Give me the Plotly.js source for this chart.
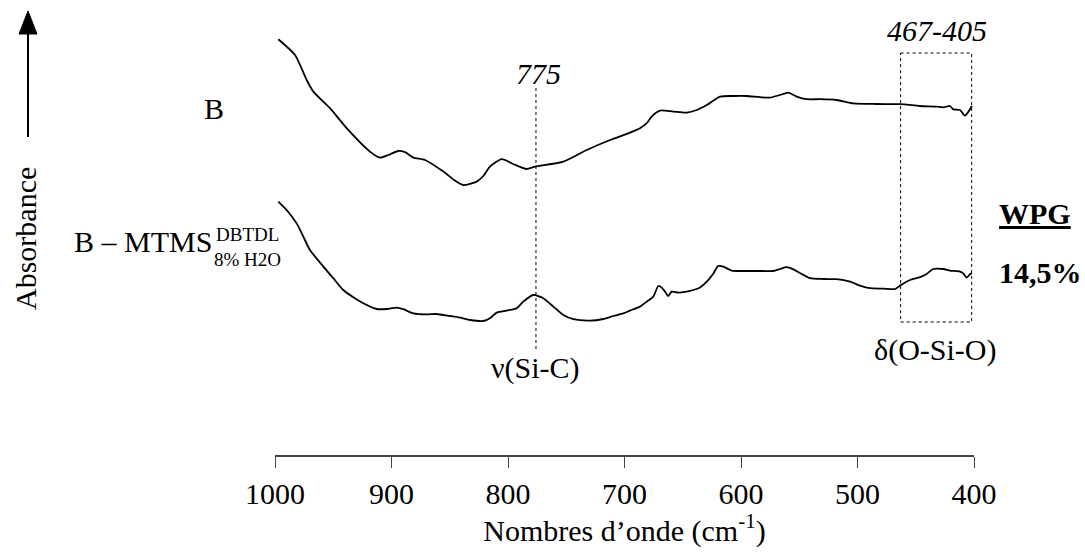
<!DOCTYPE html>
<html>
<head>
<meta charset="utf-8">
<script src="https://cdn.plot.ly/plotly-3.0.1.min.js"></script>
<style>html,body{margin:0;padding:0;background:#fff;}#chart{width:1085px;height:553px;}</style>
</head>
<body>
<div id="chart"></div>
<script>
// Wavenumbers (cm-1) and absorbance (arbitrary units) — spectrum B
const wnB = [997.2,982.8,972.8,967.1,952.8,938.5,918.5,909.9,902.8,894.2,888.4,881.3,871.2,855.5,845.5,838.4,826.9,821.2,815.5,805.4,795.5,784.0,776.8,752.5,732.4,712.4,695.3,686.7,680.9,676.7,669.5,658.1,646.6,638.0,629.4,618.0,606.6,595.1,583.7,575.1,566.5,559.4,552.2,543.6,532.2,517.9,503.6,483.5,463.5,446.4,432.0,426.4,420.6,417.8,412.0,407.7,401.8];
const absB = [2.079,2.000,1.875,1.817,1.734,1.634,1.517,1.487,1.500,1.520,1.514,1.487,1.475,1.417,1.372,1.350,1.367,1.395,1.442,1.479,1.455,1.430,1.442,1.467,1.525,1.575,1.612,1.634,1.659,1.692,1.722,1.717,1.712,1.725,1.750,1.792,1.795,1.795,1.789,1.787,1.800,1.812,1.792,1.779,1.779,1.775,1.758,1.755,1.754,1.745,1.742,1.738,1.745,1.728,1.725,1.697,1.745];

// Spectrum B – MTMS (DBTDL, 8% H2O)
const wnM = [997.2,990.0,981.4,975.7,970.0,958.5,950.0,941.4,932.8,924.2,912.7,904.1,895.5,889.9,881.3,869.8,861.2,849.8,841.2,832.6,821.2,815.5,809.7,801.1,792.5,786.9,778.3,769.7,761.1,752.5,743.9,729.6,718.2,709.6,701.0,695.3,686.7,680.9,675.3,671.0,668.1,665.2,662.4,659.5,653.8,646.6,640.9,635.2,629.4,623.7,619.7,615.2,608.0,598.0,589.4,580.8,572.3,566.5,560.8,555.1,547.9,540.8,529.4,517.9,506.4,497.9,489.3,477.8,467.8,462.7,454.9,446.4,440.7,435.0,426.4,420.6,412.0,409.2,406.3,403.4,402.0];
const absM = [1.267,1.225,1.158,1.092,1.025,0.942,0.884,0.825,0.789,0.759,0.730,0.730,0.737,0.729,0.708,0.703,0.705,0.695,0.687,0.675,0.670,0.684,0.712,0.722,0.734,0.767,0.800,0.784,0.742,0.700,0.679,0.672,0.680,0.695,0.708,0.722,0.742,0.767,0.792,0.845,0.837,0.817,0.795,0.817,0.812,0.817,0.825,0.838,0.867,0.908,0.945,0.942,0.922,0.920,0.920,0.920,0.920,0.930,0.939,0.928,0.905,0.884,0.880,0.879,0.867,0.847,0.834,0.832,0.830,0.850,0.875,0.889,0.905,0.930,0.930,0.922,0.917,0.908,0.887,0.904,0.910];

const tickVals = [1000, 900, 800, 700, 600, 500, 400];
const tickText = ["1000", "900", "800", "700", "600", "500", "400"];
const bandSiC = 776;          // dotted marker line (labelled 775)
const bandOSiO = [463, 402];   // dotted box (labelled 467-405)

// --- layout helpers (pixel -> paper) ---
const L = 275, W = 699, H = 455;
const px = x => (x - L) / W;
const py = y => (H - y) / H;
const FONT = "Liberation Serif, Times New Roman, serif";

function label(text, x, y, opts) {
  return Object.assign({
    xref: "paper", yref: "paper", x: px(x), y: py(y),
    xanchor: "center", yanchor: "middle", showarrow: false, text: text,
    font: {family: FONT, size: 30, color: "#000"}
  }, opts || {});
}

const lineStyle = {color: "#000", width: 1.8, shape: "spline", smoothing: 0.6};
const traces = [
  {x: wnB, y: absB, type: "scatter", mode: "lines", line: lineStyle, hoverinfo: "skip", name: "B"},
  {x: wnM, y: absM, type: "scatter", mode: "lines", line: lineStyle, hoverinfo: "skip", name: "B – MTMS"}
];

const layout = {
  width: 1085, height: 553,
  margin: {l: L, r: 1085 - L - W, t: 0, b: 553 - H},
  paper_bgcolor: "#fff", plot_bgcolor: "#fff",
  showlegend: false,
  font: {family: FONT, color: "#000"},
  xaxis: {
    range: [1000, 400], tickvals: tickVals, ticktext: tickText,
    ticks: "outside", ticklen: 11, tickwidth: 1, tickcolor: "#444",
    showline: true, linecolor: "#444", linewidth: 1.5,
    showgrid: false, zeroline: false,
    tickfont: {family: FONT, size: 30, color: "#000"},
    title: {text: "Nombres d’onde (cm<sup>-1</sup>)", font: {family: FONT, size: 30, color: "#000"}, standoff: 8}
  },
  yaxis: {range: [0, 2.275], visible: false, showgrid: false, zeroline: false},
  shapes: [
    {type: "line", xref: "x", yref: "paper", x0: bandSiC, x1: bandSiC, y0: py(88), y1: py(352), line: {color: "#000", width: 1, dash: "dot"}},
    {type: "rect", xref: "x", yref: "paper", x0: bandOSiO[0], x1: bandOSiO[1], y0: py(53), y1: py(322), line: {color: "#000", width: 1, dash: "dot"}},
    {type: "line", xref: "paper", yref: "paper", x0: px(28), x1: px(28), y0: py(137), y1: py(30), line: {color: "#000", width: 2}},
    {type: "path", xref: "paper", yref: "paper",
     path: "M " + px(19) + "," + py(34) + " L " + px(28) + "," + py(11) + " L " + px(37) + "," + py(34) + " Z",
     fillcolor: "#000", line: {color: "#000", width: 1}}
  ],
  annotations: [
    label("<i>775</i>", 538, 73),
    label("<i>467-405</i>", 937, 31),
    label("B", 214, 108),
    label("B – MTMS", 143, 241),
    label("DBTDL", 247, 235, {font: {family: FONT, size: 19, color: "#000"}}),
    label("8% H2O", 247, 259, {font: {family: FONT, size: 19, color: "#000"}}),
    label("Absorbance", 25, 239, {textangle: -90}),
    label("<b><u>WPG</u></b>", 1035, 213),
    label("<b>14,5%</b>", 1040, 272),
    label("ν(Si-C)", 535, 368),
    label("δ(O-Si-O)", 935, 350)
  ]
};

Plotly.newPlot("chart", traces, layout, {staticPlot: true, displayModeBar: false});
</script>
</body>
</html>
